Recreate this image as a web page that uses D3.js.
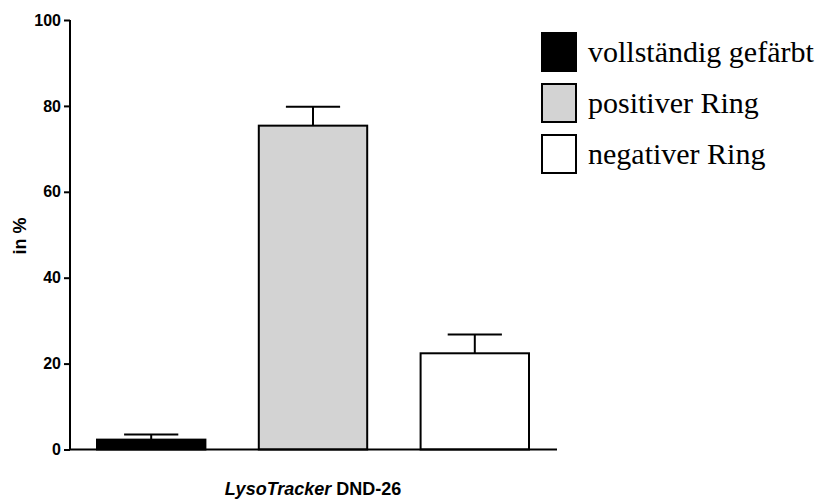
<!DOCTYPE html>
<html><head><meta charset="utf-8">
<script src="https://cdn.jsdelivr.net/npm/d3@7"></script>
<style>body{margin:0;background:#fff}</style>
</head><body>
<svg id="c" width="820" height="500"></svg>
<script>
const categories = ["vollständig gefärbt", "positiver Ring", "negativer Ring"];
const means = [2.3, 75.4, 22.4];
const errors = [1.2, 4.4, 4.4];
const fills = ["#000000", "#d3d3d3", "#ffffff"];
const yTicks = [0, 20, 40, 60, 80, 100];

const svg = d3.select("#c");
const xb = d3.scaleBand().domain(categories).range([97, 529]).paddingInner(0.33).paddingOuter(0);
const y = d3.scaleLinear().domain([0, 100]).range([449.5, 20]);

const g = svg.append("g");
const bw = xb.bandwidth();

g.selectAll("rect.bar").data(categories).join("rect")
  .attr("x", d => xb(d)).attr("width", bw)
  .attr("y", (d,i) => y(means[i])).attr("height", (d,i) => y(0) - y(means[i]))
  .attr("fill", (d,i) => fills[i]).attr("stroke", "#000").attr("stroke-width", 2);

// error bars
categories.forEach((d,i) => {
  const cx = xb(d) + bw/2;
  g.append("line").attr("x1", cx).attr("x2", cx).attr("y1", y(means[i])).attr("y2", y(means[i]+errors[i]))
    .attr("stroke", "#000").attr("stroke-width", 2);
  g.append("line").attr("x1", cx - bw/4).attr("x2", cx + bw/4).attr("y1", y(means[i]+errors[i])).attr("y2", y(means[i]+errors[i]))
    .attr("stroke", "#000").attr("stroke-width", 2);
});

// y axis
const yAxis = d3.axisLeft(y).tickValues(yTicks).tickSize(6).tickPadding(3);
const ya = svg.append("g").attr("transform", "translate(70,0)").call(yAxis);
ya.select(".domain").attr("stroke-width", 2).attr("d", `M0,${y(100)}V${y(0)}`);
ya.selectAll(".tick line").attr("stroke-width", 2);
ya.selectAll(".tick text").attr("font-family", "Arial, Liberation Sans, sans-serif").attr("font-weight", "bold").attr("font-size", 16).attr("fill", "#000");

// x axis line
svg.append("line").attr("x1", 69).attr("x2", 557).attr("y1", y(0)).attr("y2", y(0)).attr("stroke", "#000").attr("stroke-width", 2);

// y label
svg.append("text").attr("transform", `translate(26,236) rotate(-90)`)
  .attr("text-anchor", "middle").attr("font-family", "Arial, Liberation Sans, sans-serif").attr("font-weight", "bold").attr("font-size", 18).text("in %");

// x label
const xl = svg.append("text").attr("x", 313).attr("y", 495).attr("text-anchor", "middle")
  .attr("font-family", "Arial, Liberation Sans, sans-serif").attr("font-weight", "bold").attr("font-size", 18);
xl.append("tspan").attr("font-style", "italic").text("LysoTracker");
xl.append("tspan").text(" DND-26");

// legend
const leg = svg.append("g");
categories.forEach((d,i) => {
  const yy = 33 + i*51;
  leg.append("rect").attr("x", 542).attr("y", yy).attr("width", 34).attr("height", 38)
    .attr("fill", fills[i]).attr("stroke", "#000").attr("stroke-width", 2);
  leg.append("text").attr("x", 588).attr("y", yy + 29).attr("font-family", "Liberation Serif, Times New Roman, serif")
    .attr("font-size", 30).attr("fill", "#000").text(d);
});
</script>
</body></html>
